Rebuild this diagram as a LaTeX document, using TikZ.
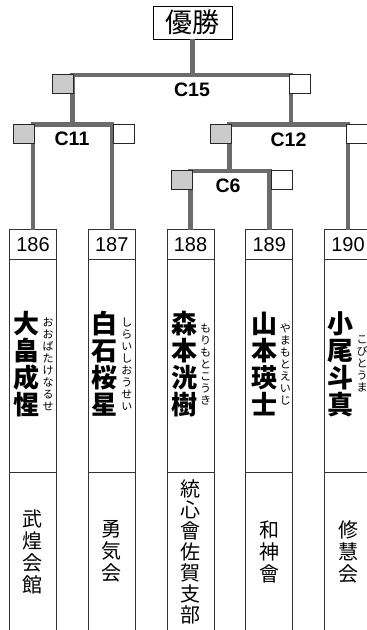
\documentclass[tikz,border=0pt]{standalone}
\usepackage{fontspec}
\setmainfont{Liberation Sans}
\newfontfamily\jpfont{Noto Sans CJK JP}
\usetikzlibrary{positioning}
\definecolor{linegrey}{HTML}{6B6B6B}
\definecolor{sqgrey}{HTML}{CBCBCB}
\tikzstyle{bline} = [line width=4.5pt, draw=linegrey]
\tikzstyle{winbox} = [rectangle, draw=black, line width=0.8pt, minimum width=79pt, minimum height=33pt, inner sep=0pt, font=\jpfont\fontsize{27}{27}\selectfont]
\tikzstyle{gsq} = [rectangle, draw=black!85, line width=1pt, fill=sqgrey, minimum width=21pt, minimum height=19pt, inner sep=0pt]
\tikzstyle{wsq} = [gsq, fill=white]
\tikzstyle{numbox} = [rectangle, draw=black!80, line width=0.7pt, minimum width=47pt, minimum height=30pt, inner sep=0pt, outer sep=0pt, font=\fontsize{20}{20}\selectfont]
\tikzstyle{namebox} = [numbox, minimum height=213pt]
\tikzstyle{clubbox} = [numbox, minimum height=175pt]
\tikzstyle{pname} = [align=center, inner sep=0pt, font=\jpfont\bfseries\fontsize{26}{27}\selectfont]
\tikzstyle{kana} = [align=center, inner sep=0pt, font=\jpfont\fontsize{11}{12}\selectfont]
\tikzstyle{club} = [align=center, inner sep=0pt, font=\jpfont\fontsize{20}{22}\selectfont]
\tikzstyle{matchlabel} = [inner sep=0pt, font=\bfseries\fontsize{19.5}{19.5}\selectfont]

\begin{document}
\begin{tikzpicture}[x=1pt, y=-1pt]
\useasboundingbox (0,0) rectangle (367,630);

% Winner
\node (win) [winbox] at (192.5,22.5) {優勝};

% Number row
\node (n186) [numbox] at (33,244.5) {186};
\node (n187) [numbox, right=31.75pt of n186] {187};
\node (n188) [numbox, right=31.75pt of n187] {188};
\node (n189) [numbox, right=31.75pt of n188] {189};
\node (n190) [numbox, right=31.75pt of n189] {190};

% Name boxes
\node (p186) [namebox, below=0pt of n186] {};
\node (p187) [namebox, below=0pt of n187] {};
\node (p188) [namebox, below=0pt of n188] {};
\node (p189) [namebox, below=0pt of n189] {};
\node (p190) [namebox, below=0pt of n190] {};

% Club boxes
\node (k186) [clubbox, below=0pt of p186] {};
\node (k187) [clubbox, below=0pt of p187] {};
\node (k188) [clubbox, below=0pt of p188] {};
\node (k189) [clubbox, below=0pt of p189] {};
\node (k190) [clubbox, below=0pt of p190] {};

% Names and readings
\node (nm186) [pname] at ([xshift=-7pt,yshift=2pt]p186.center) {大\\畠\\成\\惺};
\node (fu186) [kana] at ([xshift=15pt,yshift=2pt]p186.center) {お\\お\\ば\\た\\け\\な\\る\\せ};
\node (nm187) [pname] at ([xshift=-7pt,yshift=2pt]p187.center) {白\\石\\桜\\星};
\node (fu187) [kana] at ([xshift=15pt,yshift=2pt]p187.center) {し\\ら\\い\\し\\お\\う\\せ\\い};
\node (nm188) [pname] at ([xshift=-6pt,yshift=2pt]p188.center) {森\\本\\洸\\樹};
\node (fu188) [kana] at ([xshift=15pt,yshift=2pt]p188.center) {も\\り\\も\\と\\こ\\う\\き};
\node (nm189) [pname] at ([xshift=-5pt,yshift=2pt]p189.center) {山\\本\\瑛\\士};
\node (fu189) [kana] at ([xshift=16pt,yshift=2pt]p189.center) {や\\ま\\も\\と\\え\\い\\じ};
\node (nm190) [pname] at ([xshift=-8pt,yshift=2pt]p190.center) {小\\尾\\斗\\真};
\node (fu190) [kana] at ([xshift=14pt,yshift=2pt]p190.center) {こ\\び\\と\\う\\ま};

% Clubs
\node (t186) [club] at ([yshift=-79pt]p186.south) {武\\煌\\会\\館};
\node (t187) [club] at ([yshift=-79pt]p187.south) {勇\\気\\会};
\node (t188) [club, font=\jpfont\fontsize{20}{21}\selectfont] at ([yshift=-79pt]p188.south) {統\\心\\會\\佐\\賀\\支\\部};
\node (t189) [club] at ([yshift=-79pt]p189.south) {和\\神\\會};
\node (t190) [club] at ([yshift=-79pt]p190.south) {修\\慧\\会};

% Bracket joints
\coordinate (c6) at (229.5,171);
\coordinate (c11) at (72.5,124.5);
\coordinate (c12) at (291,124.5);
\coordinate (c15) at (192.5,75);

% Bracket lines
\draw [bline] (n186.north) |- (c11) -| (n187.north);
\draw [bline] (n188.north) |- (c6) -| (n189.north);
\draw [bline] (c6) |- (c12) -| (n190.north);
\draw [bline] (c11) |- (c15) -| (c12);
\draw [bline] (win.south) -- (c15);

% Squares
\node (s15l) [gsq, anchor=north east] at (74,74) {};
\node (s15r) [wsq, anchor=north west] at (289,74) {};
\node (s11l) [gsq, anchor=north east] at (35,123.5) {};
\node (s11r) [wsq, anchor=north west] at (113,123.5) {};
\node (s12l) [gsq, anchor=north east] at (232,123.5) {};
\node (s12r) [wsq, anchor=north west] at (346,123.5) {};
\node (s6l) [gsq, anchor=north east] at (193,170) {};
\node (s6r) [wsq, anchor=north west] at (271,170) {};

% Match labels
\node (l15) [matchlabel] at (192,90) {C15};
\node (l11) [matchlabel] at (72,138.5) {C11};
\node (l12) [matchlabel] at (288.5,139.5) {C12};
\node (l6) [matchlabel] at (228,186) {C6};

\end{tikzpicture}
\end{document}
